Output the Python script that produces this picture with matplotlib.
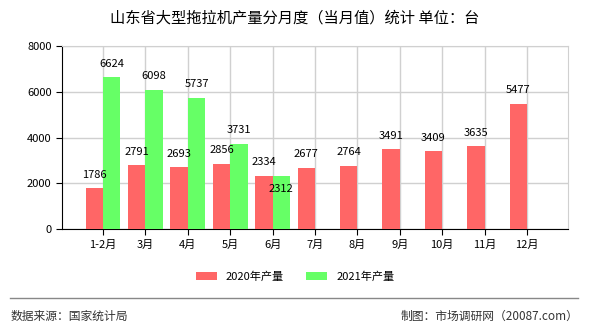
import matplotlib
matplotlib.use("Agg")
import matplotlib.pyplot as plt
import numpy as np

plt.rcParams['font.family'] = ['Noto Sans CJK SC', 'DejaVu Sans']

# ================= DATA =================
months = ["1-2月", "3月", "4月", "5月", "6月", "7月", "8月", "9月", "10月", "11月", "12月"]
y2020 = [1786, 2791, 2693, 2856, 2334, 2677, 2764, 3491, 3409, 3635, 5477]
y2021 = [6624, 6098, 5737, 3731, 2312]

title = "山东省大型拖拉机产量分月度（当月值）统计 单位：台"
source = "数据来源：国家统计局"
maker = "制图：市场调研网（20087.com）"

# ================= FIGURE =================
fig = plt.figure(figsize=(5.9, 3.3), dpi=100)
ax = fig.add_axes([62 / 590, 1 - 229 / 330, 506 / 590, 183 / 330])

x = np.arange(len(months))
w = 0.41
red = "#FF6666"
green = "#66FF66"

ax.bar(x[:len(y2020)] - w / 2, y2020, w, color=red, label="2020年产量", zorder=3)
ax.bar(x[:len(y2021)] + w / 2, y2021, w, color=green, label="2021年产量", zorder=3)

for i, v in enumerate(y2020):
    ax.annotate(str(v), (x[i] - w / 2, v), xytext=(0, 6), textcoords="offset points",
                ha="center", va="bottom", fontsize=8, zorder=4)
for i, v in enumerate(y2021):
    off = 6 if v > y2020[i] + 400 else -13
    ax.annotate(str(v), (x[i] + w / 2, v), xytext=(0, off), textcoords="offset points",
                ha="center", va="bottom", fontsize=8, zorder=4)

ax.set_xlim(-0.97, len(months) - 1 + 0.97)
ax.set_ylim(0, 8000)
ax.set_yticks([0, 2000, 4000, 6000, 8000])
ax.set_xticks(x)
ax.set_xticklabels(months)
ax.tick_params(labelsize=8, length=4, color="black")
ax.grid(True, color="#D0D0D0", linewidth=1, zorder=0)
for s in ["top", "right"]:
    ax.spines[s].set_color("#D0D0D0")
ax.spines["left"].set_color("black")
ax.spines["bottom"].set_color("black")

fig.text(0.5, 1 - 18 / 330, title, ha="center", va="center", fontsize=11)

fig.legend(loc="center", bbox_to_anchor=(0.5, 1 - 277 / 330), ncol=2, frameon=False,
           fontsize=8, handlelength=1.9, handleheight=0.7, columnspacing=2.0)

fig.add_artist(plt.Line2D([10 / 590, 578 / 590], [1 - 298 / 330] * 2, color="#888888",
                          linewidth=1, transform=fig.transFigure))
fig.text(11 / 590, 1 - 316 / 330, source, ha="left", va="center", fontsize=8.5, color="#333333")
fig.text(578 / 590, 1 - 316 / 330, maker, ha="right", va="center", fontsize=8.5, color="#333333")

fig.savefig("out.png", dpi=100)
